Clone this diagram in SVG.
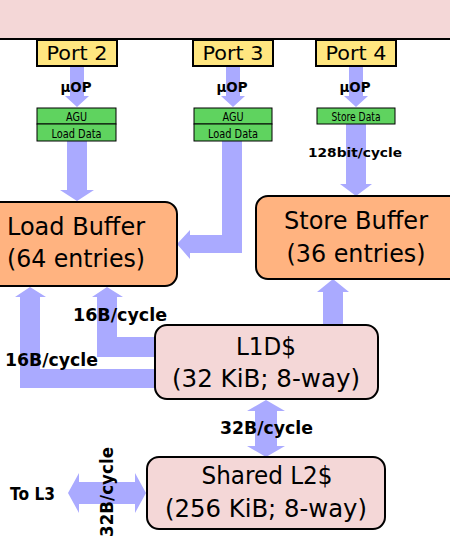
<svg xmlns="http://www.w3.org/2000/svg" width="450" height="540" viewBox="0 0 450 540">
<style>
.arrow{fill:#aaaaff;stroke:none}
.port{fill:#ffe680;stroke:#000;stroke-width:2}
.unit{fill:#5fd35f;stroke:#000;stroke-width:1}
.buf{fill:#ffb380;stroke:#000;stroke-width:2}
.cache{fill:#f4d7d7;stroke:#000;stroke-width:2}
text{font-family:"DejaVu Sans",sans-serif;fill:#000}
.pt{font-size:20px;text-anchor:middle}
.sm{font-size:13px;text-anchor:middle}
.big{font-size:24px;text-anchor:middle}
.lbl{font-size:17px;font-weight:bold}
.uop{font-size:14px;font-weight:bold;text-anchor:middle}
</style>
<rect id="top" x="-5" y="-5" width="460" height="44" fill="#f4d7d7" stroke="#000" stroke-width="2"/>
<g id="connectors">
<polygon class="arrow" points="70,66 84,66 84,96 89,96 77,107 65,96 70,96"/>
<polygon class="arrow" points="226,66 240,66 240,96 245,96 233,107 221,96 226,96"/>
<polygon class="arrow" points="349,66 363,66 363,96 368,96 356,107 344,96 349,96"/>
<polygon class="arrow" points="67,141 87,141 87,190 94,190 77,201 60,190 67,190"/>
<polygon class="arrow" points="222,141 242,141 242,253 190,253 190,259 177,244 190,230 190,235 222,235"/>
<polygon class="arrow" points="346,124 366,124 366,184 372,184 356,196 340,184 346,184"/>
<polygon class="arrow" points="323,326 343,326 343,292 349,292 333,279 317,292 323,292"/>
<polygon class="arrow" points="156,337 117,337 117,297 123,297 107,287 92,297 97,297 97,357 156,357"/>
<polygon class="arrow" points="156,369 40,369 40,297 46,297 30,287 15,297 20,297 20,388 156,388"/>
<polygon class="arrow" points="266,400 285,411 277,411 277,446 285,446 266,457 247,446 255,446 255,411 247,411"/>
<polygon class="arrow" points="68,493 79,473 79,482 135,482 135,473 146,493 135,513 135,504 79,504 79,513"/>
</g>
<g id="port2"><rect class="port" x="37" y="40" width="80" height="26"/><text class="pt" x="77" y="60" textLength="61" lengthAdjust="spacingAndGlyphs">Port 2</text></g>
<g id="port3"><rect class="port" x="193" y="40" width="80" height="26"/><text class="pt" x="233" y="60" textLength="61" lengthAdjust="spacingAndGlyphs">Port 3</text></g>
<g id="port4"><rect class="port" x="316" y="40" width="80" height="26"/><text class="pt" x="356" y="60" textLength="61" lengthAdjust="spacingAndGlyphs">Port 4</text></g>
<g id="uop-labels">
<text class="uop" x="76" y="92" textLength="31" lengthAdjust="spacingAndGlyphs">µOP</text>
<text class="uop" x="232" y="92" textLength="31" lengthAdjust="spacingAndGlyphs">µOP</text>
<text class="uop" x="355" y="92" textLength="31" lengthAdjust="spacingAndGlyphs">µOP</text>
</g>
<g id="unit2"><rect class="unit" x="37" y="108" width="79" height="16"/><text class="sm" x="76.5" y="121" textLength="21" lengthAdjust="spacingAndGlyphs">AGU</text><rect class="unit" x="37" y="124" width="79" height="17"/><text class="sm" x="76.5" y="137.5" textLength="50" lengthAdjust="spacingAndGlyphs">Load Data</text></g>
<g id="unit3"><rect class="unit" x="194" y="108" width="78" height="16"/><text class="sm" x="233" y="121" textLength="21" lengthAdjust="spacingAndGlyphs">AGU</text><rect class="unit" x="194" y="124" width="78" height="17"/><text class="sm" x="233" y="137.5" textLength="50" lengthAdjust="spacingAndGlyphs">Load Data</text></g>
<g id="unit4"><rect class="unit" x="317" y="108" width="78" height="16"/><text class="sm" x="356" y="121" textLength="49" lengthAdjust="spacingAndGlyphs">Store Data</text></g>
<text x="355" y="157" font-size="13" font-weight="bold" text-anchor="middle" textLength="94" lengthAdjust="spacingAndGlyphs">128bit/cycle</text>
<g id="loadbuffer"><rect class="buf" x="-12" y="202" width="189" height="84" rx="12"/><text class="big" x="76" y="235" textLength="138" lengthAdjust="spacingAndGlyphs">Load Buffer</text><text class="big" x="76" y="267" textLength="138" lengthAdjust="spacingAndGlyphs">(64 entries)</text></g>
<g id="storebuffer"><rect class="buf" x="256" y="196" width="210" height="83" rx="12"/><text class="big" x="356" y="229" textLength="144" lengthAdjust="spacingAndGlyphs">Store Buffer</text><text class="big" x="356" y="262" textLength="139" lengthAdjust="spacingAndGlyphs">(36 entries)</text></g>
<g id="l1d"><rect class="cache" x="155" y="325" width="223" height="74" rx="12"/><text class="big" x="266" y="355" textLength="60" lengthAdjust="spacingAndGlyphs">L1D$</text><text class="big" x="266" y="387" textLength="188" lengthAdjust="spacingAndGlyphs">(32 KiB; 8-way)</text></g>
<g id="l2"><rect class="cache" x="147" y="457" width="238" height="72" rx="12"/><text class="big" x="267" y="484" textLength="131" lengthAdjust="spacingAndGlyphs">Shared L2$</text><text class="big" x="266" y="517" textLength="202" lengthAdjust="spacingAndGlyphs">(256 KiB; 8-way)</text></g>
<g id="labels">
<text class="lbl" x="73" y="321" textLength="94" lengthAdjust="spacingAndGlyphs">16B/cycle</text>
<text class="lbl" x="5" y="366" textLength="93" lengthAdjust="spacingAndGlyphs">16B/cycle</text>
<text class="lbl" x="220" y="434" font-size="18" textLength="93" lengthAdjust="spacingAndGlyphs">32B/cycle</text>
<text class="lbl" x="0" y="0" text-anchor="middle" transform="translate(113,492) rotate(-90)" textLength="90" lengthAdjust="spacingAndGlyphs">32B/cycle</text>
<text x="10" y="500" font-size="17" font-weight="bold" textLength="45" lengthAdjust="spacingAndGlyphs">To L3</text>
</g>
</svg>
